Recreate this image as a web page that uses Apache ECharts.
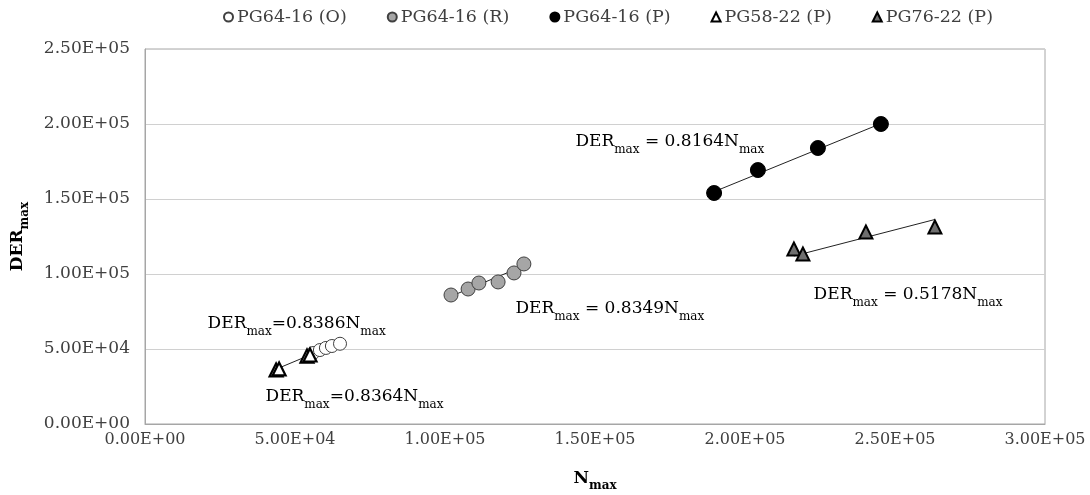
<!DOCTYPE html>
<html>
<head>
<meta charset="utf-8">
<script src="https://cdn.jsdelivr.net/npm/echarts@6/dist/echarts.min.js"></script>
<style>
  html, body { margin: 0; padding: 0; background: #fff; }
  #chart { width: 1090px; height: 495px; }
</style>
</head>
<body>
<div id="chart"></div>
<script>
// N_max / DER_max measurements per binder
const seriesNames = ['PG64-16 (O)', 'PG64-16 (R)', 'PG64-16 (P)', 'PG58-22 (P)', 'PG76-22 (P)'];

const pg6416O_N = [56000, 58300, 60300, 62300, 65000];
const pg6416O_D = [47300, 49300, 50700, 52000, 53500];

const pg6416R_N = [102000, 107700, 111300, 117700, 123000, 126300];
const pg6416R_D = [86000, 90000, 94000, 94700, 100700, 106700];

const pg6416P_N = [189700, 204300, 224300, 245300];
const pg6416P_D = [154000, 169300, 184000, 200000];

const pg5822P_N = [43700, 44700, 54000, 55000];
const pg5822P_D = [36000, 36700, 45300, 46000];

const pg7622P_N = [216300, 219300, 240300, 263300];
const pg7622P_D = [116700, 113300, 128000, 131300];

// Fitted slopes (DER_max = k * N_max, through origin)
const fitSlopes = [0.8386, 0.8349, 0.8164, 0.8364, 0.5178];
const fitText = ['0.8386', '0.8349', '0.8164', '0.8364', '0.5178'];
const fitSpaced = [false, true, true, false, true];

const xTicks = [0, 50000, 100000, 150000, 200000, 250000, 300000];
const yTicks = [0, 50000, 100000, 150000, 200000, 250000];

const FONT = 'DejaVu Serif';

function sci(v) {
  const parts = Number(v).toExponential(2).split('e');
  const exp = parseInt(parts[1], 10);
  const sign = exp < 0 ? '-' : '+';
  const e = String(Math.abs(exp)).padStart(2, '0');
  return parts[0] + 'E' + sign + e;
}

function pairs(xs, ys) { return xs.map((x, i) => [x, ys[i]]); }

const groups = [
  { name: seriesNames[0], N: pg6416O_N, D: pg6416O_D, symbol: 'circle', size: 13,
    style: { color: '#ffffff', borderColor: '#404040', borderWidth: 1, opacity: 1 } },
  { name: seriesNames[1], N: pg6416R_N, D: pg6416R_D, symbol: 'circle', size: 14,
    style: { color: '#a6a6a6', borderColor: '#404040', borderWidth: 1, opacity: 1 } },
  { name: seriesNames[2], N: pg6416P_N, D: pg6416P_D, symbol: 'circle', size: 15,
    style: { color: '#000000', borderColor: '#000000', borderWidth: 1, opacity: 1 } },
  { name: seriesNames[3], N: pg5822P_N, D: pg5822P_D, symbol: 'triangle', size: 13,
    style: { color: '#ffffff', borderColor: '#000000', borderWidth: 2.2, opacity: 1 } },
  { name: seriesNames[4], N: pg7622P_N, D: pg7622P_D, symbol: 'triangle', size: 13,
    style: { color: '#6f6f6f', borderColor: '#000000', borderWidth: 2, opacity: 1 } }
];

// Text anchors for each fit equation (left-middle of the label), in data units
const labelAnchors = [
  [20700, 66700],   // 0.8386
  [123300, 76700],  // 0.8349
  [143300, 188000], // 0.8164
  [40000, 18000],   // 0.8364
  [222700, 86000]   // 0.5178
];

const rich = {
  m: { fontFamily: FONT, fontSize: 17, color: '#000', lineHeight: 28, verticalAlign: 'middle' },
  s: { fontFamily: FONT, fontSize: 12, color: '#000', lineHeight: 28, verticalAlign: 'bottom' }
};

function eqText(i) {
  const eq = fitSpaced[i] ? ' = ' : '=';
  return '{m|DER}{s|max}{m|' + eq + fitText[i] + 'N}{s|max}';
}

const series = [];

// Trend lines through origin, spanning each data set
groups.forEach((g, i) => {
  const lo = Math.min.apply(null, g.N);
  const hi = Math.max.apply(null, g.N);
  series.push({
    type: 'line',
    name: g.name + ' fit',
    data: [[lo, fitSlopes[i] * lo], [hi, fitSlopes[i] * hi]],
    symbol: 'none',
    lineStyle: { color: '#222', width: 1 },
    z: 1,
    silent: true
  });
});

groups.forEach(g => {
  series.push({
    type: 'scatter',
    name: g.name,
    data: pairs(g.N, g.D),
    symbol: g.symbol,
    symbolSize: g.size,
    itemStyle: g.style,
    z: 3
  });
});

series.push({
  type: 'scatter',
  name: 'fit labels',
  data: labelAnchors.map((p, i) => ({ value: p, label: { formatter: eqText(i) } })),
  symbolSize: 1,
  itemStyle: { color: 'rgba(0,0,0,0)', opacity: 1 },
  label: { show: true, position: 'right', distance: 0, opacity: 1, rich: rich },
  labelLayout: { hideOverlap: false },
  silent: true,
  z: 4
});

const chart = echarts.init(document.getElementById('chart'), null, { renderer: 'canvas' });
chart.setOption({
  animation: false,
  backgroundColor: '#fff',
  legend: {
    data: groups.map(g => ({ name: g.name, icon: g.symbol })),
    top: 3,
    left: 218,
    itemWidth: 9,
    itemHeight: 9,
    itemGap: 40,
    textStyle: { fontFamily: FONT, fontSize: 17.5, color: '#404040', padding: [0, 0, 0, -1] }
  },
  grid: {
    left: 145, right: 45, top: 49, bottom: 71,
    outerBoundsMode: 'none',
    containLabel: false,
    show: true, borderColor: '#a6a6a6', borderWidth: 1
  },
  xAxis: {
    type: 'value',
    min: xTicks[0], max: xTicks[xTicks.length - 1], interval: 50000,
    name: '{b|N}{bs|max}',
    nameLocation: 'middle',
    nameGap: 42,
    nameTextStyle: {
      rich: {
        b: { fontFamily: FONT, fontSize: 17, fontWeight: 'bold', color: '#000', lineHeight: 26, verticalAlign: 'middle' },
        bs: { fontFamily: FONT, fontSize: 12, fontWeight: 'bold', color: '#000', lineHeight: 26, verticalAlign: 'bottom' }
      }
    },
    axisLine: { show: true, lineStyle: { color: '#a6a6a6' } },
    axisTick: { show: false },
    splitLine: { show: false },
    axisLabel: { formatter: sci, fontFamily: FONT, fontSize: 16, color: '#404040', margin: 8 }
  },
  yAxis: {
    type: 'value',
    min: yTicks[0], max: yTicks[yTicks.length - 1], interval: 50000,
    name: '{b|DER}{bs|max}',
    nameLocation: 'middle',
    nameGap: 114,
    nameTextStyle: {
      rich: {
        b: { fontFamily: FONT, fontSize: 17, fontWeight: 'bold', color: '#000', lineHeight: 26, verticalAlign: 'middle' },
        bs: { fontFamily: FONT, fontSize: 12, fontWeight: 'bold', color: '#000', lineHeight: 26, verticalAlign: 'bottom' }
      }
    },
    axisLine: { show: true, lineStyle: { color: '#a6a6a6' } },
    axisTick: { show: false },
    splitLine: { show: true, lineStyle: { color: '#d0d0d0' } },
    axisLabel: { formatter: sci, fontFamily: FONT, fontSize: 17, color: '#404040', margin: 15 }
  },
  series: series
});
</script>
</body>
</html>
